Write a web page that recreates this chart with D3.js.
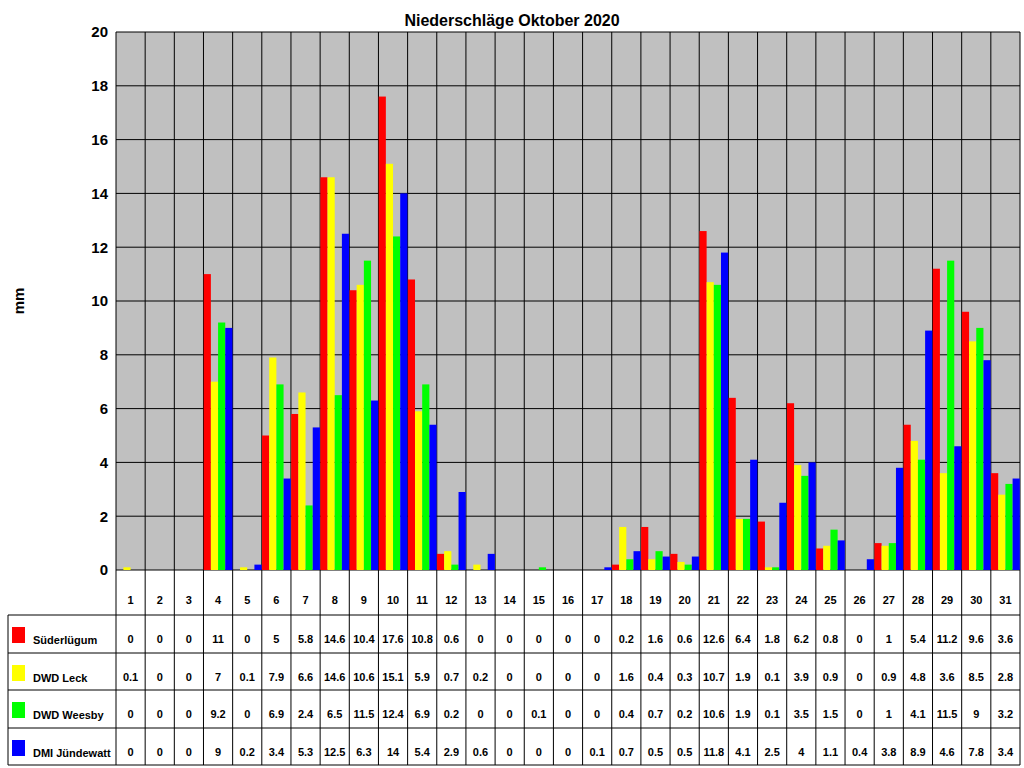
<!DOCTYPE html>
<html><head><meta charset="utf-8">
<script src="https://cdn.jsdelivr.net/npm/d3@7"></script>
<style>body{margin:0;background:#fff}text{font-family:Arial,"Liberation Sans",sans-serif;font-weight:bold}</style>
</head><body><svg id="c" width="1024" height="768"></svg>
<script>
const days = d3.range(1, 32).map(String);
const seriesNames = ["Süderlügum", "DWD Leck", "DWD Weesby", "DMI Jündewatt"];
const colors = ["#ff0000", "#ffff00", "#00ff00", "#0000ff"];
const suederluegum = [0,0,0,11,0,5,5.8,14.6,10.4,17.6,10.8,0.6,0,0,0,0,0,0.2,1.6,0.6,12.6,6.4,1.8,6.2,0.8,0,1,5.4,11.2,9.6,3.6];
const leck = [0.1,0,0,7,0.1,7.9,6.6,14.6,10.6,15.1,5.9,0.7,0.2,0,0,0,0,1.6,0.4,0.3,10.7,1.9,0.1,3.9,0.9,0,0.9,4.8,3.6,8.5,2.8];
const weesby = [0,0,0,9.2,0,6.9,2.4,6.5,11.5,12.4,6.9,0.2,0,0,0.1,0,0,0.4,0.7,0.2,10.6,1.9,0.1,3.5,1.5,0,1,4.1,11.5,9,3.2];
const juendewatt = [0,0,0,9,0.2,3.4,5.3,12.5,6.3,14,5.4,2.9,0.6,0,0,0,0.1,0.7,0.5,0.5,11.8,4.1,2.5,4,1.1,0.4,3.8,8.9,4.6,7.8,3.4];
const yTicks = d3.range(0, 21, 2);
const values = [suederluegum, leck, weesby, juendewatt];

const svg = d3.select("#c");
const L = 116, R = 1020, T = 32, B = 570;
const x = d3.scaleBand().domain(days).range([L, R]);
const xs = d3.scaleBand().domain(d3.range(4)).range([0, x.bandwidth()]).paddingOuter(0.03);
const y = d3.scaleLinear().domain([0, 20]).range([B, T]);

svg.append("rect").attr("x", L).attr("y", T).attr("width", R - L).attr("height", B - T)
  .attr("fill", "#c0c0c0");
yTicks.forEach(t => svg.append("line").attr("x1", L).attr("x2", R).attr("y1", y(t)).attr("y2", y(t)).attr("stroke", "#000"));
days.forEach(d => svg.append("line").attr("x1", x(d)).attr("x2", x(d)).attr("y1", T).attr("y2", 765).attr("stroke", "#000"));
svg.append("line").attr("x1", R).attr("x2", R).attr("y1", T).attr("y2", 765).attr("stroke", "#000");

values.forEach((vals, i) => {
  svg.append("g").selectAll("rect").data(vals).join("rect")
    .attr("x", (v, j) => x(days[j]) + xs(i))
    .attr("width", xs.bandwidth())
    .attr("y", v => y(v))
    .attr("height", v => B - y(v))
    .attr("fill", colors[i]);
});

svg.append("g").attr("transform", `translate(${L},0)`)
  .call(d3.axisLeft(y).tickValues(yTicks).tickSize(0).tickPadding(8))
  .call(g => g.select(".domain").remove())
  .selectAll("text").attr("font-size", 15).attr("fill", "#000");

svg.append("text").attr("x", 512).attr("y", 26).attr("text-anchor", "middle").attr("font-size", 16).text("Niederschläge Oktober 2020");
svg.append("text").attr("transform", "translate(24,301) rotate(-90)").attr("text-anchor", "middle").attr("font-size", 15).text("mm");

// data table
const rowY = [615, 653, 690, 728, 765];
rowY.forEach(ry => svg.append("line").attr("x1", 8).attr("x2", R).attr("y1", ry).attr("y2", ry).attr("stroke", "#000"));
svg.append("line").attr("x1", 8).attr("x2", 8).attr("y1", 615).attr("y2", 765).attr("stroke", "#000");
days.forEach(d => svg.append("text").attr("x", x(d) + x.bandwidth() / 2).attr("y", 604)
  .attr("text-anchor", "middle").attr("font-size", 11).text(d));
values.forEach((vals, i) => {
  const cy = rowY[i] + 28;
  svg.append("rect").attr("x", 12).attr("y", cy - 16).attr("width", 13).attr("height", 16).attr("fill", colors[i]);
  svg.append("text").attr("x", 33).attr("y", cy + 1).attr("font-size", 11).text(seriesNames[i]);
  vals.forEach((v, j) => svg.append("text").attr("x", x(days[j]) + x.bandwidth() / 2).attr("y", cy)
    .attr("text-anchor", "middle").attr("font-size", 11).text(v));
});
</script></body></html>
